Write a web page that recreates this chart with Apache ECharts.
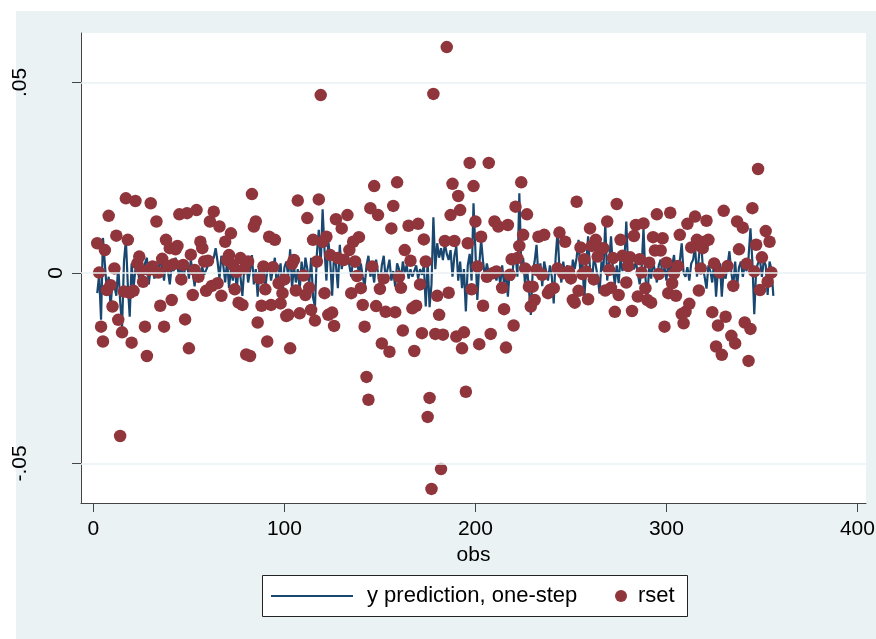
<!DOCTYPE html>
<html>
<head>
<meta charset="utf-8">
<script src="https://cdn.jsdelivr.net/npm/echarts@6/dist/echarts.min.js"></script>
<style>
html,body{margin:0;padding:0;background:#fff;}
#c{width:876px;height:639px;}
</style>
</head>
<body>
<div id="c"></div>
<script>
// Values are in thousandths (0.001 units); tick labels show the original scale.
const xTicks = [0, 100, 200, 300, 400];
const yTicks = [-50, 0, 50];
const yTickLabels = ['-.05', '0', '.05'];

// y prediction, one-step: consecutive observations starting at obs 2
const predFirstObs = 2;
const pred = [
 -5.3,-0.5,-12.3,9.2,8.8,-4.5,-1.0,-8.9,-2.0,-3.5,
 -6.0,2.0,-7.5,-14.2,3.0,8.7,-3.0,-11.5,2.5,-4.0,
 1.0,3.5,-2.0,5.0,-1.0,2.5,4.0,-3.0,1.5,0.5,
 -1.5,3.0,0.0,4.0,1.0,-2.0,3.5,0.5,-3.0,2.0,
 0.5,4.0,1.5,-1.0,3.0,-2.5,1.5,2.5,-1.5,3.5,
 0.0,-3.5,2.0,0.5,-1.0,1.5,-0.5,0.0,2.0,2.5,
 3.0,4.0,6.5,3.0,-1.5,4.5,2.0,-2.5,3.5,-4.0,
 1.0,-2.0,3.0,-5.0,2.0,-1.0,-6.0,1.5,3.5,-2.5,
 0.5,4.7,-3.0,1.0,-6.2,2.0,-1.5,3.0,-4.0,0.5,
 2.5,-2.0,1.0,4.0,-3.5,0.0,2.5,-5.5,1.5,3.0,
 -1.0,6.2,-4.0,2.0,-2.5,1.0,-4.5,3.0,-2.0,4.0,
 1.0,-3.0,4.0,-6.5,-8.8,5.0,11.3,2.0,16.7,6.0,
 -2.0,8.5,3.0,-6.0,5.0,2.0,-4.0,7.4,1.0,4.0,
 3.0,5.5,2.0,-1.0,4.0,1.5,3.0,0.0,2.5,-1.0,
 -3.5,2.0,4.5,-1.0,1.0,-2.5,3.5,0.0,-3.0,2.0,
 4.5,-1.5,1.0,3.5,-2.0,0.5,-3.6,2.5,1.0,-2.0,
 3.0,0.0,2.0,-1.5,1.0,-1.0,0.5,2.0,-1.5,1.0,
 -0.5,2.0,-8.8,3.0,-9.0,-3.0,14.6,1.0,7.8,4.0,
 6.5,3.4,7.8,5.0,3.4,6.0,-1.0,4.5,7.0,-2.0,
 3.0,-4.0,1.0,-10.1,2.0,5.0,-2.0,18.3,6.0,-7.1,
 2.0,8.7,3.0,-1.0,2.5,0.0,-1.5,1.5,0.5,-2.0,
 1.0,-3.0,
 2.0,-3.0,0.5,-6.2,1.0,-2.0,3.0,5.0,-1.0,20.9,
 2.0,4.0,-3.0,1.5,-4.0,-11.0,0.5,3.0,7.4,-1.0,
 2.5,-3.5,3.0,0.5,-2.0,2.0,-1.0,-8.0,4.0,10.8,
 1.0,-2.5,3.0,-1.0,2.0,0.0,-3.0,3.5,1.0,4.0,
 8.7,-1.0,3.0,-7.1,2.0,9.6,1.0,-3.0,4.0,2.0,
 -1.0,-5.4,3.0,0.5,13.0,-2.0,3.0,9.6,1.0,-3.0,
 2.0,-2.7,4.0,0.5,3.0,13.5,1.0,3.5,2.0,1.0,
 3.0,2.5,
 -3.0,1.0,11.7,-1.0,-7.1,2.0,-1.5,3.0,0.5,-2.5,
 2.0,3.5,-1.0,1.5,-2.0,3.0,0.0,2.0,4.7,-1.5,
 1.0,3.0,7.8,0.0,-1.0,1.5,-2.0,2.5,3.5,7.0,
 -1.0,4.0,9.5,2.0,-1.0,-4.1,2.0,0.5,-2.5,3.0,
 -6.2,1.0,2.5,-6.2,1.0,-1.5,2.0,5.7,0.0,-3.5,
 3.0,-3.6,1.5,3.0,-1.0,2.0,0.5,4.0,11.7,3.0,
 -10.8,1.0,2.6,3.5,-1.0,3.4,2.0,-5.8,3.0,1.0,-6.0
];

// rset: [obs, value] for the readable markers
const rsetPoints = [
 [2,7.8],[3,0.1],[4,-14.1],[5,-18.0],[6,6.0],[7,-4.5],[8,15.0],[9,-3.2],[10,-8.8],[11,1.2],
 [12,9.8],[13,-12.3],[14,-42.8],[15,-15.6],[16,-4.9],[17,19.6],[18,8.7],[19,-5.2],[20,-18.3],[21,-4.7],
 [22,18.9],[23,2.5],[24,4.3],[25,0.8],[26,-2.3],[27,-14.1],[28,-21.8],[29,0.8],[30,18.3],[31,1.7],
 [33,13.5],[34,0.1],[35,-8.6],[36,3.7],[37,-14.1],[38,8.7],[39,1.8],[40,6.5],[41,-7.1],[42,2.3],
 [43,6.2],[44,7.1],[45,15.4],[46,-1.7],[47,2.1],[48,-12.2],[49,15.7],[50,-19.8],[51,4.8],[52,-5.8],
 [53,0.8],[54,16.5],[55,-1.0],[56,8.2],[57,6.5],[58,3.0],[59,-4.7],[60,3.2],[61,13.5],[62,-3.4],
 [63,16.1],[65,-2.7],[66,12.2],[67,-6.0],[69,8.2],[70,3.4],[71,4.7],[72,10.4],[73,2.1],[74,-4.3],
 [75,0.3],[76,-7.8],[77,3.9],[78,-8.4],[79,1.2],[80,-21.4],[81,3.0],[82,-21.8],[83,20.7],[84,12.2],
 [85,13.5],[86,-13.0],[87,-1.4],[88,-8.6],[89,1.7],[90,-4.3],[91,-18.0],[92,9.5],[93,-8.4],[94,1.5],
 [95,8.7],[97,-2.7],[98,-8.0],[99,-5.3],[100,-1.7],[101,-11.3],[102,-11.0],[103,-19.8],[104,2.4],[105,3.4],
 [106,-4.6],[107,19.0],[108,-10.6],[110,-0.7],[111,-5.8],[112,14.4],[113,-3.9],[114,-9.7],[115,8.7],[116,-12.5],
 [117,3.0],[118,19.3],[119,46.7],[120,8.2],[121,-5.3],[122,9.5],[123,-11.0],[124,4.7],[125,-10.4],[126,-13.9],
 [127,14.1],[128,3.9],[130,11.7],[131,3.4],[133,15.2],[134,6.0],[135,-5.3],[136,8.2],[137,3.0],[138,-0.8],
 [139,9.4],[140,-4.0],[141,-8.4],[142,-14.1],[143,-27.3],[144,-33.3],[145,17.0],[146,1.7],[147,22.8],[148,-8.7],
 [149,15.2],[150,-4.2],[151,-18.5],[152,-1.4],[153,-10.2],[155,-20.7],[156,11.7],[157,17.6],[158,-10.3],[159,23.8],
 [160,-1.0],[161,-3.9],[162,-15.1],[163,6.0],[165,12.4],[166,3.2],[167,-9.3],[168,-20.5],[169,-8.6],[170,12.9],
 [171,-3.0],[172,-15.8],[173,8.8],[174,3.0],[175,-37.8],[176,-32.8],[177,-56.7],[178,47.0],[179,-16.0],[180,-6.0],
 [181,-11.0],[182,-51.5],[183,-16.2],[184,8.4],[185,59.3],[186,-5.2],[187,15.2],[188,23.4],[189,8.4],[190,-16.7],
 [191,20.2],[192,16.5],[193,-19.8],[194,-15.6],[195,-31.2],[196,7.8],[197,28.9],[198,-4.3],[199,22.8],[200,13.5],
 [201,1.7],[202,-18.7],[203,9.5],[204,-8.6],[206,-1.0],[207,28.9],[208,-16.0],[209,-0.1],[210,13.5],[211,0.4],
 [212,12.2],[214,-3.9],[215,-9.5],[216,-19.6],[217,12.6],[218,-0.5],[219,3.6],[220,-13.8],[221,17.4],[222,3.9],
 [223,7.1],[224,23.8],[225,10.0],[226,1.2],[227,15.4],[228,-3.6],[229,-8.8],[230,-3.6],[231,-7.1],[232,0.8],
 [233,9.5],[235,-0.5],[236,10.0],[238,-5.3],[239,-4.5],[241,-4.0],[243,1.2],[244,10.6],[246,-0.1],[247,8.2],
 [249,0.4],[250,-1.4],[251,-7.1],[252,-7.8],[253,18.7],[254,-4.7],[255,6.7],[256,-0.3],[257,3.6],[258,0.4],
 [259,-6.9],[260,11.7],[261,7.1],[262,-1.7],[263,8.7],[264,4.3],[265,6.5],[267,6.5],[268,-4.6],[269,13.5],
 [270,0.8],[271,-3.9],[272,3.9],[273,-10.2],[274,18.1],[275,-5.8],[276,8.7],[277,4.5],[279,-2.5],[280,1.8],
 [281,4.1],[282,-10.0],[283,9.7],[284,12.6],[285,-6.2],[286,3.6],[287,0.1],[288,13.0],[289,-4.0],[290,-7.1],
 [291,2.7],[292,-7.8],[293,9.4],[294,5.9],[295,15.4],[296,-0.3],[297,5.9],[298,9.1],[299,-14.1],[300,2.7],
 [301,-5.3],[302,15.8],[303,-2.7],[304,-0.1],[305,-6.0],[306,1.8],[307,10.0],[308,-10.8],[309,-13.2],[310,-10.2],
 [311,12.9],[312,-8.1],[313,6.7],[315,14.8],[316,8.7],[317,-4.6],[318,1.2],[319,6.5],[320,8.2],[321,13.7],
 [322,8.7],[324,-10.3],[325,2.5],[326,-19.3],[327,-13.8],[328,0.1],[329,-21.5],[330,16.3],[331,-11.5],[332,1.8],
 [334,-16.5],[335,-3.4],[336,-18.5],[337,13.5],[338,6.2],[340,11.9],[341,-13.0],[342,2.4],[343,-23.1],[344,-14.7],
 [345,17.0],[346,0.4],[347,7.4],[348,27.3],[349,-4.5],[350,4.1],[352,11.0],[353,-2.3],[354,8.2],[355,0.1]
];

const predData = pred.map((v, i) => [predFirstObs + i, v]);
const FONT = '"Liberation Sans", Arial, Helvetica, sans-serif';

const chart = echarts.init(document.getElementById('c'), null, {renderer: 'canvas'});
chart.setOption({
  animation: false,
  backgroundColor: '#EAF2F3',
  textStyle: {fontFamily: FONT},
  graphic: [
    {type: 'rect', left: 0, top: 0, shape: {width: 16, height: 639}, style: {fill: '#ffffff'}, silent: true},
    {type: 'rect', left: 0, top: 0, shape: {width: 876, height: 11}, style: {fill: '#ffffff'}, silent: true},
    {type: 'rect', left: 262, top: 575, shape: {width: 425, height: 41}, style: {fill: '#ffffff', stroke: '#222', lineWidth: 1}, silent: true, z: 0}
  ],
  grid: {left: 81, right: 10, top: 33, bottom: 136, show: true, backgroundColor: '#ffffff', borderWidth: 0, containLabel: false, outerBoundsMode: 'none'},
  xAxis: {
    type: 'value', min: -6.5, max: 404.5,
    name: 'obs', nameLocation: 'middle', nameGap: 34,
    nameTextStyle: {fontSize: 21, color: '#000', fontFamily: FONT},
    axisLine: {show: true, onZero: false, lineStyle: {color: '#444', width: 1}},
    axisTick: {show: true, length: 9, customValues: xTicks, lineStyle: {color: '#444', width: 1}},
    axisLabel: {customValues: xTicks, fontSize: 21, color: '#000', margin: 16, fontFamily: FONT},
    splitLine: {show: false}
  },
  yAxis: {
    type: 'value', min: -60.4, max: 63,
    axisLine: {show: true, onZero: false, lineStyle: {color: '#444', width: 1}},
    axisTick: {show: true, length: 9, customValues: yTicks, lineStyle: {color: '#444', width: 1}},
    axisLabel: {
      customValues: yTicks, rotate: 90, margin: 14, fontSize: 21, color: '#000', fontFamily: FONT,
      formatter: function (v) {
        const i = yTicks.indexOf(v);
        const t = i >= 0 ? yTickLabels[i] : '';
        return v === 0 ? '{z|' + t + '}' : '{o|' + t + '}';
      },
      rich: {
        z: {fontSize: 21, color: '#000', fontFamily: FONT},
        o: {fontSize: 21, color: '#000', fontFamily: FONT, padding: [0, 0, 36, 0]}
      }
    },
    splitLine: {show: false}
  },
  legend: [
    {data: [{name: 'y prediction, one-step', icon: 'rect', itemStyle: {color: '#1a476f'}}],
     left: 271, top: 585, padding: 0, itemWidth: 82, itemHeight: 2,
     selectedMode: false, z: 5, textStyle: {fontSize: 22, color: '#000', fontFamily: FONT, padding: [0, 0, 0, 9]}},
    {data: ['rset'], left: 615, top: 585, padding: 0, itemWidth: 12, itemHeight: 12, icon: 'circle',
     selectedMode: false, z: 5, textStyle: {fontSize: 22, color: '#000', fontFamily: FONT, padding: [0, 0, 0, 6]}}
  ],
  series: [
    {
      name: 'grid', type: 'line', data: [], z: 1, silent: true,
      markLine: {
        silent: true, symbol: ['none', 'none'], label: {show: false},
        lineStyle: {color: '#EAF2F3', width: 1.5, type: 'solid'},
        emphasis: {disabled: true},
        data: yTicks.map(v => ({yAxis: v}))
      }
    },
    {
      name: 'y prediction, one-step', type: 'line', data: predData, z: 2,
      symbol: 'none', showSymbol: false,
      lineStyle: {color: '#1a476f', width: 2.2},
      itemStyle: {color: '#1a476f'},
      emphasis: {disabled: true}
    },
    {
      name: 'rset', type: 'scatter', data: rsetPoints, z: 3,
      symbol: 'circle', symbolSize: 12.5,
      itemStyle: {color: '#90353b', opacity: 1},
      emphasis: {disabled: true}
    }
  ]
});
</script>
</body>
</html>
